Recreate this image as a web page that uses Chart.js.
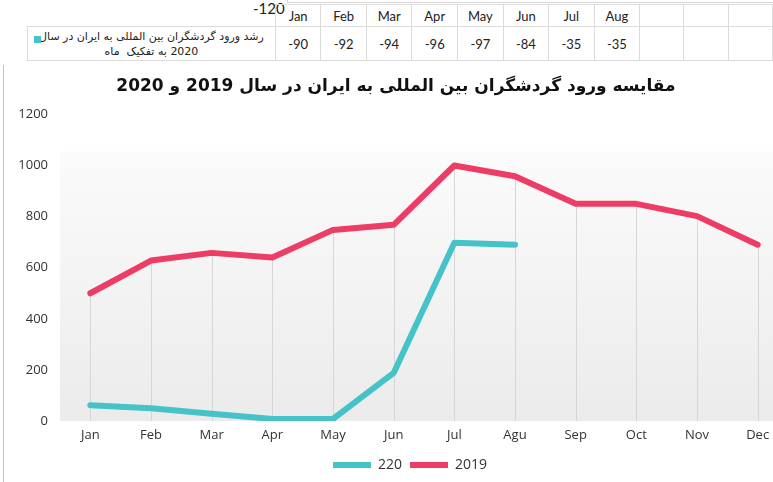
<!DOCTYPE html>
<html>
<head>
<meta charset="utf-8">
<script src="https://cdn.jsdelivr.net/npm/chart.js@4.4.1/dist/chart.umd.min.js"></script>
<style>
    html, body { margin: 0; padding: 0; background: #fff; overflow: hidden; width: 773px; height: 482px; }
    #topStrip { position: absolute; left: 0; top: 0; width: 773px; height: 62px; overflow: hidden; font-family: Lato, 'Open Sans', sans-serif; color: #222; }
    #axisLabel { position: absolute; left: 253px; top: -1px; font-size: 15px; }
    #axisLine { position: absolute; left: 287px; top: 2px; width: 490px; height: 0; border-top: 1px solid #d6d6d6; }
    #axisStub { position: absolute; left: 287px; top: 0; width: 0; height: 3px; border-left: 1px solid #d6d6d6; }
    table { position: absolute; left: 27px; top: 4px; border-collapse: collapse; table-layout: fixed; }
    td { border: 1px solid #dcdcdc; text-align: center; font-size: 13px; padding: 0; }
    td.blank { border: none; }
    tr.head td { height: 21px; }
    tr.vals td { height: 33px; }
    td.key { direction: rtl; text-align: center; font-family: 'DejaVu Sans', sans-serif; font-size: 11px; line-height: 15px; position: relative; }
    td.key .sq { display: inline-block; width: 7px; height: 7px; background: #45c3c8; position: absolute; left: 6px; top: 9px; }
    #chartBox { position: absolute; left: 3px; top: 65px; width: 790px; height: 417px; border-left: 1px solid #c4c4c4; }
</style>
</head>
<body>
<div id="topStrip">
    <div id="axisLabel">-120</div>
    <div id="axisStub"></div>
    <div id="axisLine"></div>
    <table id="dataTable"></table>
</div>
<div id="chartBox"><canvas id="tourismChart" width="790" height="417"></canvas></div>
<script>
// top table (growth 2020, percent)
const tableMonths = ['Jan', 'Feb', 'Mar', 'Apr', 'May', 'Jun', 'Jul', 'Aug'];
const growth2020 = [-90, -92, -94, -96, -97, -84, -35, -35];
const emptyCols = 3;
const tableKey = 'رشد ورود گردشگران بین المللی به ایران در سال<br>2020 به تفکیک&nbsp; ماه';

// main chart
const months = ['Jan', 'Feb', 'Mar', 'Apr', 'May', 'Jun', 'Jul', 'Agu', 'Sep', 'Oct', 'Nov', 'Dec'];
const tourists2020 = [62, 50, 28, 8, 8, 188, 698, 690, null, null, null, null];
const tourists2019 = [500, 628, 658, 640, 748, 768, 1000, 958, 850, 850, 802, 690];
const yTicks = [0, 200, 400, 600, 800, 1000, 1200];

function buildTable() {
    const table = document.getElementById('dataTable');
    let head = '<tr class="head"><td class="blank" style="width:260px"></td>';
    let vals = '<tr class="vals"><td class="key"><span class="sq"></span>' + tableKey + '</td>';
    tableMonths.forEach(function(m, i) {
        head += '<td style="width:46px">' + m + '</td>';
        vals += '<td>' + growth2020[i] + '</td>';
    });
    for (let i = 0; i < emptyCols; i++) {
        head += '<td style="width:46px"></td>';
        vals += '<td></td>';
    }
    table.innerHTML = head + '</tr>' + vals + '</tr>';
}
buildTable();

const plotDecor = {
    id: 'plotDecor',
    afterLayout: function(chart) {
        // legend sits a bit right of centre in the original
        chart.legend.left += 14;
        chart.legend.right += 14;
    },
    beforeDatasetsDraw: function(chart) {
        const ctx = chart.ctx;
        const area = chart.chartArea;
        const y = chart.scales.y;
        const x = chart.scales.x;
        const top = y.getPixelForValue(1055);
        const grad = ctx.createLinearGradient(0, top, 0, area.bottom);
        grad.addColorStop(0, '#fbfbfb');
        grad.addColorStop(1, '#ebebeb');
        ctx.save();
        ctx.fillStyle = grad;
        ctx.fillRect(area.left, top, chart.width - area.left, area.bottom - top);
        // drop lines from the highest point down to the axis
        ctx.strokeStyle = '#d6d6d6';
        ctx.lineWidth = 1;
        months.forEach(function(m, i) {
            const vals = chart.data.datasets.map(d => d.data[i]).filter(v => v !== null);
            if (!vals.length) return;
            const px = Math.round(x.getPixelForValue(i)) + 0.5;
            ctx.beginPath();
            ctx.moveTo(px, y.getPixelForValue(Math.max.apply(null, vals)));
            ctx.lineTo(px, area.bottom);
            ctx.stroke();
        });
        ctx.restore();
    }
};

new Chart(document.getElementById('tourismChart'), {
    type: 'line',
    data: {
        labels: months,
        datasets: [
            {
                label: '220',
                data: tourists2020,
                borderColor: '#45c3c8',
                backgroundColor: '#45c3c8',
                borderWidth: 6,
                borderCapStyle: 'round',
                borderJoinStyle: 'round',
                pointRadius: 0,
                tension: 0
            },
            {
                label: '2019',
                data: tourists2019,
                borderColor: '#ee3d65',
                backgroundColor: '#ee3d65',
                borderWidth: 6,
                borderCapStyle: 'round',
                borderJoinStyle: 'round',
                pointRadius: 0,
                tension: 0
            }
        ]
    },
    options: {
        responsive: false,
        animation: false,
        layout: {
            padding: { left: 0, right: 6, top: 0, bottom: 0 }
        },
        plugins: {
            title: {
                display: true,
                // RLE ... PDF keeps the Persian sentence in right-to-left order
                text: '\u202Bمقایسه ورود گردشگران بین المللی به ایران در سال 2019 و 2020\u202C',
                color: '#111',
                font: { family: "'DejaVu Sans', sans-serif", size: 17, weight: 'bold' },
                padding: { top: 11, bottom: 18 }
            },
            legend: {
                position: 'bottom',
                labels: {
                    usePointStyle: true,
                    pointStyle: 'line',
                    pointStyleWidth: 38,
                    color: '#333',
                    padding: 8,
                    font: { family: "'Open Sans', sans-serif", size: 14 }
                }
            },
            tooltip: { enabled: false }
        },
        scales: {
            y: {
                min: 0,
                max: 1200,
                afterBuildTicks: function(axis) {
                    axis.ticks = yTicks.map(v => ({ value: v }));
                },
                afterFit: function(axis) {
                    axis.width = 56;
                },
                border: { display: false },
                grid: { display: false, drawTicks: false },
                ticks: {
                    padding: 12,
                    color: '#333',
                    font: { family: "'Open Sans', sans-serif", size: 13 },
                    callback: function(value) {
                        return String(value);
                    }
                }
            },
            x: {
                offset: true,
                border: { display: false },
                grid: { display: false, drawTicks: false, offset: true },
                ticks: {
                    padding: 8,
                    color: '#333',
                    font: { family: "'Open Sans', sans-serif", size: 13, lineHeight: 1 }
                }
            }
        }
    },
    plugins: [plotDecor]
});
</script>
</body>
</html>
